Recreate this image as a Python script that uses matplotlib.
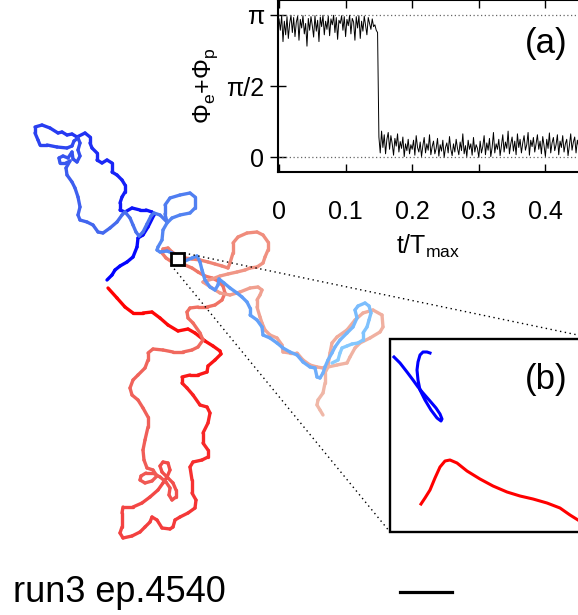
import numpy as np
import matplotlib
matplotlib.use("Agg")
import matplotlib.pyplot as plt
from matplotlib.collections import LineCollection
from matplotlib.colors import LinearSegmentedColormap
from matplotlib.patches import Rectangle

plt.rcParams["font.family"] = ["Liberation Sans", "DejaVu Sans"]
plt.rcParams["mathtext.fontset"] = "custom"
plt.rcParams["mathtext.rm"] = "Liberation Sans"
plt.rcParams["mathtext.it"] = "Liberation Sans:italic"
plt.rcParams["mathtext.default"] = "regular"

# trajectories (image-plane units, y downward)
blue_x = [107, 112, 115, 120, 127, 133, 137, 138, 143, 148, 154,
          152, 146, 140, 132, 125, 120,
          120, 122, 125, 125, 122, 117, 112, 112, 107, 102, 97, 97, 92, 90, 90, 85, 77, 72, 67, 62, 58, 50, 42, 35,
          35, 38, 40, 47, 57, 67, 72,
          74, 78, 80, 78, 80, 77, 73, 72, 68, 63, 59, 60, 66, 70,
          66, 67, 72, 75, 78, 80, 78, 80, 87, 93, 98, 103, 110, 117, 122, 125,
          130, 133, 136, 139, 143, 147, 151, 154,
          160, 167, 165, 165, 170, 180, 190, 195, 195, 190, 180, 172, 167, 163, 162, 158, 157, 160, 167, 172, 178,
          185, 192, 197, 200, 202, 205, 210, 215, 218, 219, 224, 230, 237, 242, 247, 250, 250, 257, 262, 263,
          270, 277, 283, 290, 297, 303, 310, 315, 317, 320, 323, 325, 328, 332, 335, 340, 347, 353, 357, 355,
          358, 365, 369, 371, 369, 367, 363, 363, 358, 352, 347, 342, 340, 338, 332]
blue_y = [280, 275, 270, 266, 262, 257, 247, 238, 235, 227, 215,
          212, 210, 210, 208, 212, 210,
          203, 197, 192, 185, 180, 175, 172, 163, 160, 163, 160, 153, 148, 143, 137, 133, 137, 134, 135, 132, 133, 128, 125, 127,
          133, 140, 145, 145, 147, 148, 146,
          141, 138, 143, 150, 156, 162, 159, 152, 158, 156, 158, 163, 163, 161,
          168, 175, 182, 188, 197, 207, 215, 220, 222, 225, 232, 233, 228, 222, 215, 212,
          218, 225, 232, 236, 232, 224, 216, 213,
          215, 222, 214, 205, 198, 195, 193, 197, 208, 213, 215, 218, 223, 230, 240, 247, 250, 252, 251, 253, 258,
          261, 258, 256, 262, 270, 280, 287, 290, 285, 279, 283, 288, 293, 297, 302, 308, 315, 320, 327, 335,
          338, 343, 348, 352, 355, 362, 367, 368, 377, 378, 373, 367, 360, 353, 347, 340, 333, 327, 318, 310,
          306, 303, 306, 313, 320, 327, 333, 340, 343, 344, 346, 348, 353, 360, 363]

red_x = [108, 117, 125, 133, 143, 152, 160, 168, 178, 188, 195, 205, 213, 220, 221, 215, 208, 207, 198, 190,
         182, 182, 187, 193, 200, 207, 210, 208, 203, 203, 208, 208, 202, 193, 190, 192, 192, 196, 195, 188,
         180, 175, 173, 170, 162, 157, 152, 150, 145, 140, 132, 123, 120, 122, 122, 123, 133, 142, 150, 158,
         163, 167, 170, 168, 163, 160, 162, 168, 173, 176, 176, 172, 169, 170, 166, 160, 153, 146, 141, 140,
         145, 152, 157, 153, 147, 144, 143, 145, 148, 148, 143, 138, 132, 130, 133, 138, 145, 148, 148, 153,
         163, 173, 183, 192, 198, 203, 200, 193, 188, 187, 190, 198, 207, 215, 222, 225, 223, 218, 212, 205,
         198, 192, 185, 178, 172, 166, 162, 163, 168, 172, 178, 185, 192, 200, 208, 215, 222, 228, 230, 233,
         233, 238, 247, 257, 263, 268, 268, 265, 263, 257, 250, 245, 237, 228, 220, 212, 203, 212, 220, 230,
         240, 250, 258, 262, 260, 257, 257, 260, 262, 265, 270, 277, 282, 283, 290, 297, 303, 310, 317, 323,
         328, 330, 332, 337, 347, 355, 363, 373, 382, 383, 380, 370, 360, 355, 350, 347, 337, 328, 325, 325,
         323, 318, 317, 320, 323]
red_y = [288, 298, 307, 313, 313, 312, 318, 325, 331, 329, 333, 341, 346, 351, 354, 360, 366, 372, 375, 375,
         377, 383, 388, 395, 405, 407, 413, 423, 433, 443, 450, 457, 460, 462, 467, 480, 493, 500, 508, 513,
         517, 520, 527, 529, 528, 520, 517, 522, 527, 532, 536, 538, 533, 527, 513, 507, 507, 503, 497, 490,
         483, 477, 470, 463, 462, 466, 472, 478, 483, 490, 497, 500, 495, 488, 482, 477, 473, 473, 476, 480,
         483, 481, 476, 470, 468, 460, 450, 440, 427, 417, 408, 400, 395, 388, 380, 375, 368, 360, 353, 349,
         350, 352, 352, 350, 347, 340, 333, 323, 318, 312, 308, 307, 307, 305, 300, 293, 286, 281, 278, 276,
         272, 268, 265, 264, 262, 258, 253, 249, 248, 252, 256, 258, 259, 260, 262, 264, 266, 268, 263, 253,
         243, 237, 233, 232, 235, 242, 250, 257, 263, 267, 268, 270, 272, 274, 276, 279, 282, 288, 293, 295,
         292, 288, 287, 290, 295, 300, 307, 317, 323, 330, 335, 338, 345, 352, 353, 353, 360, 365, 367, 368,
         365, 353, 343, 337, 330, 320, 313, 310, 315, 327, 332, 338, 343, 348, 357, 363, 365, 367, 373, 383,
         393, 400, 405, 410, 415]

# zoomed view (b)
zoom_blue_x = [394, 400, 407, 413, 418, 423, 430, 436, 440, 442, 441, 437, 431, 425, 420, 418, 417, 418, 420, 423, 427, 430]
zoom_blue_y = [357, 363, 372, 380, 387, 393, 401, 408, 414, 419, 421, 418, 410, 400, 390, 380, 370, 362, 355, 352, 352, 353]
zoom_red_x = [421, 425, 430, 435, 440, 445, 450, 457, 467, 480, 493, 507, 520, 533, 547, 560, 570, 578, 590]
zoom_red_y = [504, 498, 490, 478, 467, 461, 460, 463, 471, 479, 486, 492, 496, 499, 503, 508, 515, 520, 528]

# inset (a): Phi_e + Phi_p against t/T_max
t_step = 0.002
phi_before = [3.05, 2.80, 3.12, 2.55, 3.00, 2.70, 3.10, 2.62, 2.95, 3.13, 2.75, 3.08, 2.66, 2.98, 3.11,
              2.58, 3.04, 2.85, 3.12, 2.72, 2.95, 2.45, 3.06, 2.80, 3.10, 2.90, 2.65, 3.12, 2.78, 3.02,
              2.55, 3.09, 2.88, 3.13, 2.70, 3.00, 2.82, 3.11, 2.68, 3.05, 2.92, 3.13, 2.75, 3.08, 2.60,
              3.02, 2.95, 3.12, 2.80, 3.10, 2.66, 3.04, 2.90, 3.13, 2.72, 3.06, 2.98, 2.58, 3.10, 2.85,
              3.12, 2.62, 3.00, 2.78, 3.11, 2.90, 2.70, 3.08, 2.95, 2.82, 3.05, 2.88, 2.92, 2.80, 2.75]
phi_after = [0.45, 0.10, 0.58, 0.22, 0.50, 0.08, 0.40, 0.55, 0.18, 0.48, 0.30, 0.05, 0.42, 0.25, 0.52,
             0.12, 0.35, 0.20, 0.45, 0.02, 0.30, 0.15, 0.40, 0.08, 0.28, 0.18, 0.38, 0.05, 0.48, 0.22,
             0.12, 0.34, 0.02, 0.26, 0.44, 0.10, 0.30, 0.16, 0.50, 0.06, 0.24, 0.36, 0.08, 0.20, 0.42,
             0.03, 0.28, 0.14, 0.38, 0.00, 0.22, 0.32, 0.10, 0.46, 0.18, 0.04, 0.30, 0.12, 0.40, 0.20,
             0.06, 0.34, 0.15, 0.52, 0.08, 0.26, 0.02, 0.38, 0.18, 0.30, 0.05, 0.44, 0.12, 0.28, 0.20,
             0.00, 0.36, 0.10, 0.24, 0.48, 0.06, 0.32, 0.16, 0.42, 0.02, 0.22, 0.55, 0.10, 0.30, 0.18,
             0.40, 0.04, 0.26, 0.50, 0.12, 0.34, 0.20, 0.58, 0.08, 0.30, 0.45, 0.14, 0.36, 0.06, 0.52,
             0.22, 0.40, 0.10, 0.32, 0.48, 0.16, 0.28, 0.55, 0.05, 0.38, 0.24, 0.44, 0.12, 0.30, 0.50,
             0.18, 0.36, 0.08, 0.46, 0.26, 0.02, 0.40, 0.20, 0.54, 0.10, 0.32, 0.44, 0.15, 0.28, 0.50,
             0.06, 0.36, 0.22, 0.48, 0.12, 0.30, 0.40, 0.04, 0.26, 0.52, 0.16, 0.34, 0.45, 0.10, 0.38,
             0.24, 0.50, 0.08, 0.30, 0.42, 0.14, 0.36, 0.55, 0.20, 0.32, 0.46]
x_ticks = [0, 0.1, 0.2, 0.3, 0.4]
x_tick_labels = ["0", "0.1", "0.2", "0.3", "0.4"]
y_ticks = [0, np.pi / 2, np.pi]
y_tick_labels = ["0", "\u03c0/2", "\u03c0"]

# layout helpers (pixels)
W, H = 578, 615
zoom_square = (171, 253, 13, 12)
inset_b = (390, 339, 207, 193)

blue_cmap = LinearSegmentedColormap.from_list("b", ["#0000ff", "#2a40f0", "#4a72ee", "#5f9cf8", "#88ccff"])
red_cmap = LinearSegmentedColormap.from_list("r", ["#ff0000", "#f43a3a", "#f05a55", "#f07868", "#f0a090", "#f0b8a8"])


def draw_path(ax, xs, ys, cmap, lw=2.4):
    pts = np.column_stack([xs, ys])
    segs = np.stack([pts[:-1], pts[1:]], axis=1)
    colors = cmap(np.linspace(0, 1, len(segs)))
    lc = LineCollection(segs, colors=colors, linewidths=lw, capstyle="round", joinstyle="round")
    ax.add_collection(lc)


fig = plt.figure(figsize=(W / 100, H / 100), dpi=100)
ax = fig.add_axes([0, 0, 1, 1])
ax.set_xlim(0, W)
ax.set_ylim(H, 0)
ax.axis("off")

draw_path(ax, red_x, red_y, red_cmap)
draw_path(ax, blue_x, blue_y, blue_cmap)

# zoom indicator and inset (b)
sx, sy, sw, sh = zoom_square
bx, by, bw, bh = inset_b
ax.plot([sx + sw, bx + bw], [sy, by], color="k", ls=(0, (1, 2.5)), lw=1, zorder=4)
ax.plot([sx, bx], [sy + sh, by + bh], color="k", ls=(0, (1, 2.5)), lw=1, zorder=4)
ax.add_patch(Rectangle((sx, sy), sw, sh, fc="white", ec="k", lw=2, zorder=5))
ax.add_patch(Rectangle((bx, by), bw, bh, fc="white", ec="k", lw=1.7, zorder=5))
ax.plot(zoom_blue_x, zoom_blue_y, color="#0000ff", lw=2.2, zorder=6)
ax.plot(zoom_red_x, zoom_red_y, color="#ff0000", lw=2.2, zorder=6)
ax.text(546, 379, "(b)", fontsize=25, ha="center", va="center", zorder=7)

ax.text(13, 602, "run3 ep.4540", fontsize=26, ha="left", va="baseline")
ax.plot([400, 452], [592, 592], color="k", lw=2.3)

# inset (a)
phi = phi_before + phi_after
t = np.arange(len(phi)) * t_step
axa = fig.add_axes([278 / W, 1 - 172 / H, (612 - 278) / W, 172 / H])
axa.plot(t, phi, color="k", lw=0.7)
axa.axhline(np.pi, color="#666666", ls=(0, (1, 2)), lw=0.9)
axa.axhline(0, color="#666666", ls=(0, (1, 2)), lw=0.9)
axa.set_xlim(-0.0015, 0.5)
axa.set_ylim(-0.32, 3.466)
axa.set_xticks(x_ticks)
axa.set_xticklabels(x_tick_labels)
axa.set_yticks(y_ticks)
axa.set_yticklabels(y_tick_labels)
axa.tick_params(axis="x", direction="in", length=6, width=1, top=True, pad=20, labelsize=18)
axa.tick_params(axis="y", direction="inout", length=12, width=1, pad=4, labelsize=18)
for s in axa.spines.values():
    s.set_linewidth(1.5)
axa.set_xlabel(r"t/T$_{max}$", fontsize=18)
axa.xaxis.set_label_coords(0.449, -0.355)
axa.set_ylabel(r"$\Phi_e$+$\Phi_p$", fontsize=18)
axa.yaxis.set_label_coords(-0.175, 0.5)
fig.text(546 / W, 1 - 43 / H, "(a)", fontsize=25, ha="center", va="center")

fig.savefig("out.png", dpi=100)
